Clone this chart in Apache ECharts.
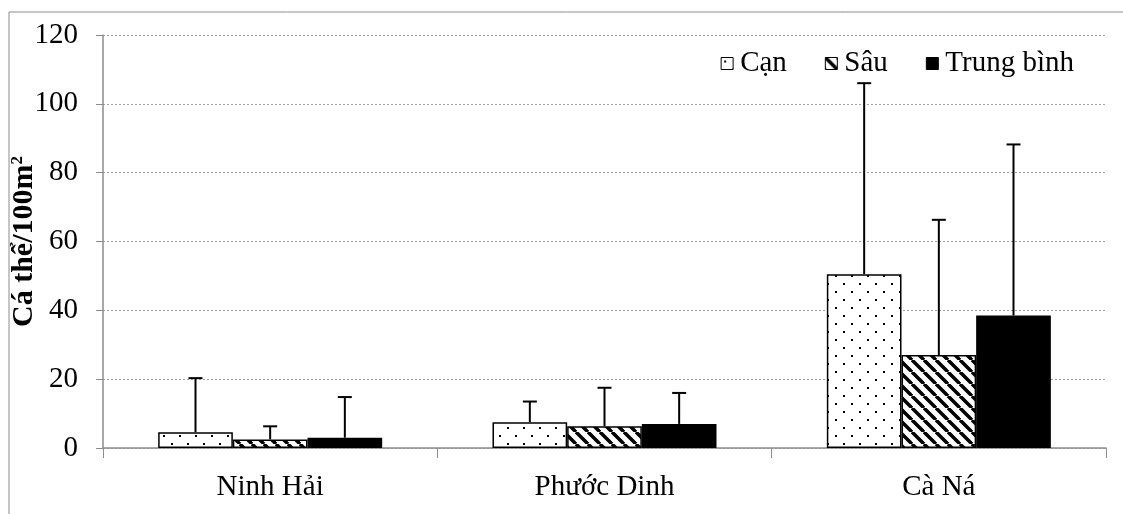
<!DOCTYPE html>
<html>
<head>
<meta charset="utf-8">
<script src="https://cdn.jsdelivr.net/npm/echarts@6/dist/echarts.min.js"></script>
<style>
  html, body { margin: 0; padding: 0; background: #fff; }
  #chart-container { width: 1123px; height: 514px; }
</style>
</head>
<body>
<div id="chart-container"></div>
<script>
// data
const categories = ["Ninh Hải", "Phước Dinh", "Cà Ná"];
const seriesNames = ["Cạn", "Sâu", "Trung bình"];
const canMean = [4.6, 7.5, 50.5];
const canUpper = [20.3, 13.5, 106];
const sauMean = [2.5, 6.3, 27];
const sauUpper = [6.3, 17.5, 66.3];
const tbMean = [3, 7, 38.5];
const tbUpper = [14.8, 16, 88.2];
const yTicks = [0, 20, 40, 60, 80, 100, 120];

const FONT = "Liberation Serif";

// fill patterns
function dotPattern() {
    let c = document.createElement("canvas");
    c.width = 16; c.height = 16;
    let ctx = c.getContext("2d");
    ctx.fillStyle = "#fff";
    ctx.fillRect(0, 0, 16, 16);
    ctx.fillStyle = "#000";
    ctx.fillRect(3, 3, 2, 2);
    ctx.fillRect(11, 11, 2, 2);
    return c;
}
function hatchPattern() {
    let c = document.createElement("canvas");
    c.width = 12; c.height = 12;
    let ctx = c.getContext("2d");
    ctx.fillStyle = "#fff";
    ctx.fillRect(0, 0, 12, 12);
    ctx.strokeStyle = "#000";
    ctx.lineWidth = 3.5;
    for (let k = -12; k <= 12; k += 12) {
        ctx.beginPath();
        ctx.moveTo(k, 0);
        ctx.lineTo(k + 12, 12);
        ctx.stroke();
    }
    return c;
}

const fills = [
    { image: dotPattern(), repeat: "repeat" },
    { image: hatchPattern(), repeat: "repeat" },
    "#000"
];
const means = [canMean, sauMean, tbMean];
const uppers = [canUpper, sauUpper, tbUpper];
const GAP = 0.33;

let dom = document.getElementById("chart-container");
let myChart = echarts.init(dom, null, { renderer: "canvas" });

function errorSeries(idx) {
    return {
        type: "custom",
        name: seriesNames[idx] + "_err",
        z: 5,
        silent: true,
        data: categories.map((c, i) => [i, means[idx][i], uppers[idx][i]]),
        renderItem: function (params, api) {
            let band = api.size([1, 0])[0];
            let bw = band * (1 - GAP) / 3;
            let base = api.coord([api.value(0), api.value(1)]);
            let top = api.coord([api.value(0), api.value(2)]);
            let x = base[0] + (idx - 1) * bw;
            let style = { stroke: "#000", lineWidth: 2 };
            return {
                type: "group",
                children: [
                    { type: "line", shape: { x1: x, y1: base[1], x2: x, y2: top[1] }, style: style },
                    { type: "line", shape: { x1: x - 7, y1: top[1], x2: x + 7, y2: top[1] }, style: style }
                ]
            };
        }
    };
}

let option = {
    backgroundColor: "#fff",
    animation: false,
    textStyle: { fontFamily: FONT, color: "#000" },
    graphic: [{
        type: "rect",
        shape: { x: 9, y: 12, width: 1130, height: 520 },
        style: { fill: "none", stroke: "#8c8c8c", lineWidth: 1 },
        silent: true
    }],
    legend: {
        data: seriesNames,
        top: 44,
        right: 44,
        itemWidth: 12,
        itemHeight: 12,
        itemGap: 38,
        icon: "rect",
        textStyle: { fontFamily: FONT, fontSize: 29, color: "#000", padding: [0, 0, 0, 2] },
        itemStyle: { borderColor: "#000", borderWidth: 1 }
    },
    grid: { left: 103, right: 17, top: 35, bottom: 66, outerBoundsMode: "none", containLabel: false },
    xAxis: {
        type: "category",
        data: categories,
        axisLine: { lineStyle: { color: "#8c8c8c", width: 1.5 } },
        axisTick: { show: true, length: 10, lineStyle: { color: "#8c8c8c" } },
        axisLabel: { fontFamily: FONT, fontSize: 29, color: "#000", margin: 25 },
        splitLine: { show: false }
    },
    yAxis: {
        type: "value",
        min: yTicks[0],
        max: yTicks[yTicks.length - 1],
        interval: 20,
        name: "{b|Cá thể/100m}{s|2}",
        nameLocation: "middle",
        nameRotate: 90,
        nameGap: 64,
        nameMoveOverlap: false,
        nameTextStyle: {
            rich: {
                b: { fontFamily: FONT, fontWeight: "bold", fontSize: 30, color: "#000" },
                s: { fontFamily: FONT, fontWeight: "bold", fontSize: 17, color: "#000", verticalAlign: "top", padding: [0, 0, 12, 0] }
            }
        },
        axisLine: { show: true, lineStyle: { color: "#8c8c8c", width: 1.5 } },
        axisTick: { show: true, length: 7, lineStyle: { color: "#8c8c8c" } },
        axisLabel: { fontFamily: FONT, fontSize: 29, color: "#000", margin: 25 },
        splitLine: { lineStyle: { color: "#a0a0a0", type: [2, 2], width: 1 } }
    },
    series: [0, 1, 2].map(idx => ({
        type: "bar",
        name: seriesNames[idx],
        data: means[idx],
        barGap: "0%",
        barCategoryGap: (GAP * 100) + "%",
        itemStyle: { color: fills[idx], borderColor: "#000", borderWidth: 1.5 }
    })).concat([0, 1, 2].map(errorSeries))
};

if (option && typeof option === "object") {
    myChart.setOption(option);
}

window.addEventListener("resize", myChart.resize);
</script>
</body>
</html>
